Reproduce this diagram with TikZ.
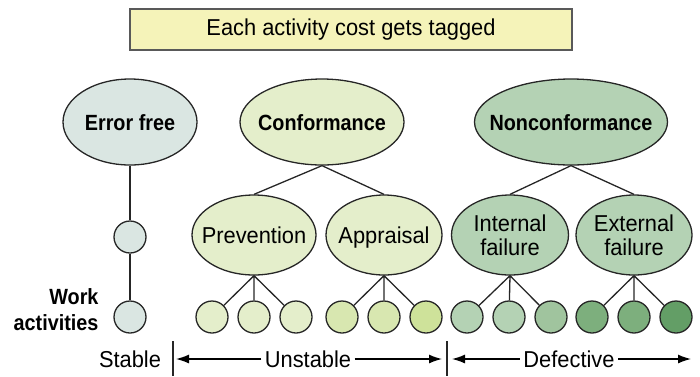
\documentclass[tikz,border=0pt]{standalone}
\usepackage{fontspec}
\setmainfont{Liberation Sans}[FakeStretch=0.95]
\newfontfamily\headfont{Liberation Sans Bold}[FakeStretch=0.9]
\usetikzlibrary{shapes.geometric,arrows.meta,positioning}
\definecolor{tagfill}{HTML}{F5F3B9}
\definecolor{freefill}{HTML}{DAE6E2}
\definecolor{conffill}{HTML}{E4EECB}
\definecolor{apprfill}{HTML}{D8E7B0}
\definecolor{apprdark}{HTML}{CEE29A}
\definecolor{nonfill}{HTML}{B4D2B4}
\definecolor{intdark}{HTML}{A0C49E}
\definecolor{extfill}{HTML}{7DAF7D}
\definecolor{extdark}{HTML}{639E66}
\tikzset{
  cost/.style={ellipse,draw=black!85,line width=1.3pt,inner xsep=-30pt,inner ysep=0pt,
    align=center,font=\fontsize{23}{24}\selectfont},
  costone/.style={cost,text height=16pt,text depth=0pt},
  costhead/.style={costone,font=\fontsize{22}{24}\headfont},
  act/.style={circle,draw=black!85,line width=1.3pt,minimum size=32pt,inner sep=0pt},
  link/.style={line width=1.3pt,draw=black!85},
  span/.style={line width=1.3pt,-{Latex[length=13pt,width=9pt]}}
}

\begin{document}
\begin{tikzpicture}[x=1pt,y=-1pt]
  \useasboundingbox (0,0) rectangle (700,376);
  \node[draw=black!65,fill=tagfill,line width=1.2pt,minimum width=442pt,
    minimum height=41pt,font=\fontsize{23}{24}\selectfont]
    (tag) at (351,29.5) {Each activity cost gets tagged};
  % cost categories
  \node[costhead,fill=freefill,minimum width=134pt,minimum height=86pt]
    (free) at (130,122) {Error free};
  \node[costhead,fill=conffill,minimum width=164pt,minimum height=86pt]
    (conf) at (322,122) {Conformance};
  \node[costhead,fill=nonfill,minimum width=193pt,minimum height=86pt]
    (nonconf) at (571,122) {Nonconformance};
  \node[costone,fill=conffill,minimum width=124pt,minimum height=80pt]
    (prev) at (254,235) {Prevention};
  \node[costone,fill=conffill,minimum width=116pt,minimum height=80pt]
    (appr) at (384,235) {Appraisal};
  \node[cost,fill=nonfill,minimum width=117pt,minimum height=80pt]
    (intf) at (510,235) {Internal\\failure};
  \node[cost,fill=nonfill,minimum width=116pt,minimum height=80pt]
    (extf) at (634,235) {External\\failure};
  \draw[link] (conf.south)--(prev.north) (conf.south)--(appr.north);
  \draw[link] (nonconf.south)--(intf.north) (nonconf.south)--(extf.north);
  % work activities
  \node[act,fill=freefill] (free1) at (130,237) {};
  \node[act,fill=freefill] (free2) at (130,317) {};
  \draw[link] (free)--(free1) (free1)--(free2);
  \foreach \p/\x/\ca/\cb/\cc in {prev/254/conffill/conffill/conffill,
      appr/384/apprfill/apprfill/apprdark,
      intf/509/nonfill/nonfill/intdark,
      extf/634/extfill/extfill/extdark}{
    \node[act,fill=\ca] (\p1) at (\x-42,317) {};
    \node[act,fill=\cb] (\p2) at (\x,317) {};
    \node[act,fill=\cc] (\p3) at (\x+42,317) {};
    \draw[link] (\p.south)--(\p1) (\p.south)--(\p2) (\p.south)--(\p3);
  }
  \node[align=right,anchor=east,font=\fontsize{22}{26}\headfont]
    (work) at (102,310) {Work\\activities};
  % stability scale
  \node[font=\fontsize{23}{24}\selectfont] (stable) at (130,359) {Stable};
  \node[font=\fontsize{23}{24}\selectfont] (unstable) at (308,359) {Unstable};
  \node[font=\fontsize{23}{24}\selectfont] (defect) at (569,359) {Defective};
  \coordinate (bara) at (173,359);
  \coordinate (barb) at (447,359);
  \coordinate (rend) at (691,359);
  \draw[link] (173,341)--(173,376) (447,341)--(447,376);
  \draw[span] (unstable.west)--([xshift=3pt]bara);
  \draw[span] (unstable.east)--([xshift=-5pt]barb);
  \draw[span] (defect.west)--([xshift=5pt]barb);
  \draw[span] (defect.east)--(rend);
\end{tikzpicture}
\end{document}
